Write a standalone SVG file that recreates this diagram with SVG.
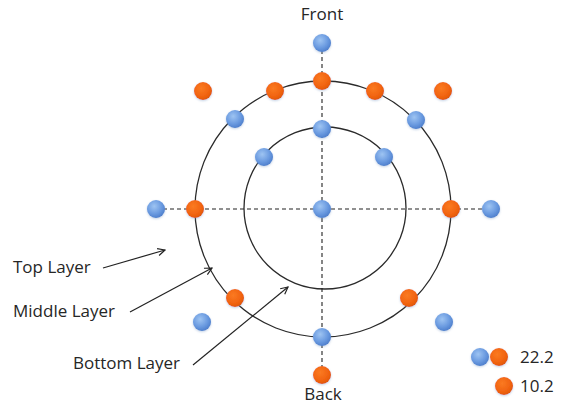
<svg xmlns="http://www.w3.org/2000/svg" width="563" height="404" viewBox="0 0 563 404">
  <style>
    .lbl { font-family: "Open Sans", "Liberation Sans", sans-serif; font-size: 17px; fill: #262626; }
    .ring { fill: none; stroke: #2a2a2a; stroke-width: 1.3; }
    .axis { fill: none; stroke: #222; stroke-width: 1.1; stroke-dasharray: 4 3; }
    .arrow { fill: none; stroke: #222; stroke-width: 1.2; marker-end: url(#open); }
    .blue { fill: url(#gBlue); filter: url(#soft); }
    .orange { fill: url(#gOrange); filter: url(#soft); }
  </style>
  <defs>
    <radialGradient id="gBlue" cx="0.4" cy="0.35" r="0.7">
      <stop offset="0" stop-color="#9ec4f2"/>
      <stop offset="0.6" stop-color="#6a9ae0"/>
      <stop offset="1" stop-color="#4a7bc9"/>
    </radialGradient>
    <radialGradient id="gOrange" cx="0.4" cy="0.35" r="0.7">
      <stop offset="0" stop-color="#fb7a22"/>
      <stop offset="0.7" stop-color="#f0620f"/>
      <stop offset="1" stop-color="#d9550a"/>
    </radialGradient>
    <filter id="soft" x="-50%" y="-50%" width="200%" height="200%">
      <feDropShadow dx="0" dy="1" stdDeviation="1" flood-color="#7a9cc8" flood-opacity="0.45"/>
    </filter>
    <marker id="open" viewBox="0 0 10 10" refX="9" refY="5" markerWidth="9" markerHeight="9" markerUnits="userSpaceOnUse" orient="auto">
      <path d="M1,1 L9,5 L1,9" fill="none" stroke="#222" stroke-width="1.3"/>
    </marker>
  </defs>

  <!-- layer rings -->
  <g id="rings">
    <circle id="outer-ring" class="ring" cx="323" cy="209" r="128"/>
    <circle id="inner-ring" class="ring" cx="325" cy="208" r="81"/>
  </g>

  <!-- dashed front/back and side axes, plus label pointers -->
  <g id="connectors">
    <line class="axis" x1="322" y1="43" x2="322" y2="375"/>
    <line class="axis" x1="156" y1="209" x2="491" y2="209"/>
    <line class="arrow" x1="103" y1="268" x2="165" y2="250"/>
    <line class="arrow" x1="130" y1="312" x2="212" y2="268"/>
    <line class="arrow" x1="193" y1="365" x2="288" y2="287"/>
  </g>

  <!-- blue points -->
  <g id="blue-points">
    <circle id="b-front" class="blue" cx="322" cy="43" r="9"/>
    <circle id="b-outer-nw" class="blue" cx="235" cy="119" r="9"/>
    <circle id="b-outer-ne" class="blue" cx="416" cy="120" r="9"/>
    <circle id="b-inner-n" class="blue" cx="322" cy="129" r="9"/>
    <circle id="b-inner-nw" class="blue" cx="264" cy="157" r="9"/>
    <circle id="b-inner-ne" class="blue" cx="384" cy="157" r="9"/>
    <circle id="b-left" class="blue" cx="156" cy="209" r="9"/>
    <circle id="b-center" class="blue" cx="322" cy="209" r="9"/>
    <circle id="b-right" class="blue" cx="491" cy="209" r="9"/>
    <circle id="b-sw" class="blue" cx="202" cy="322" r="9"/>
    <circle id="b-se" class="blue" cx="444" cy="322" r="9"/>
    <circle id="b-back" class="blue" cx="322" cy="337" r="9"/>
  </g>

  <!-- orange points -->
  <g id="orange-points">
    <circle id="o-front" class="orange" cx="322" cy="81" r="9"/>
    <circle id="o-nw-far" class="orange" cx="203" cy="91" r="9"/>
    <circle id="o-nw" class="orange" cx="275" cy="91" r="9"/>
    <circle id="o-ne" class="orange" cx="375" cy="91" r="9"/>
    <circle id="o-ne-far" class="orange" cx="443" cy="91" r="9"/>
    <circle id="o-left" class="orange" cx="195" cy="209" r="9"/>
    <circle id="o-right" class="orange" cx="451" cy="209" r="9"/>
    <circle id="o-sw" class="orange" cx="235" cy="298" r="9"/>
    <circle id="o-se" class="orange" cx="409" cy="298" r="9"/>
    <circle id="o-back" class="orange" cx="322" cy="375" r="9"/>
  </g>

  <!-- legend -->
  <g id="legend">
    <circle class="blue" cx="480" cy="357" r="9"/>
    <circle class="orange" cx="499" cy="357" r="9"/>
    <circle class="orange" cx="504" cy="386" r="9"/>
    <text class="lbl" x="520" y="363">22.2</text>
    <text class="lbl" x="520" y="392">10.2</text>
  </g>

  <!-- labels -->
  <g id="labels">
    <text class="lbl" x="322" y="20" text-anchor="middle">Front</text>
    <text class="lbl" x="323" y="400" text-anchor="middle">Back</text>
    <text class="lbl" x="13" y="273">Top Layer</text>
    <text class="lbl" x="13" y="317">Middle Layer</text>
    <text class="lbl" x="73" y="369">Bottom Layer</text>
  </g>
</svg>
